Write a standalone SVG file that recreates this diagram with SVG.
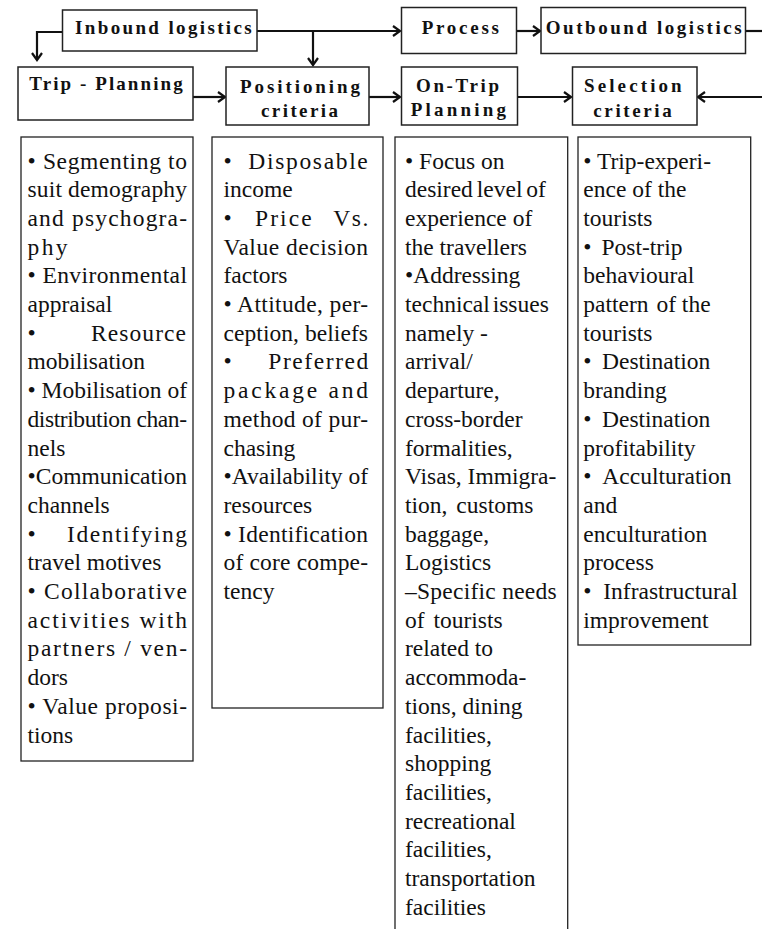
<svg xmlns="http://www.w3.org/2000/svg" width="762" height="929" viewBox="0 0 762 929">
<style>
text{font-family:'Liberation Serif',serif !important}
.h{font-weight:bold;font-size:19px;fill:#111}
.t{font-size:23.5px;fill:#111}
.hbox{fill:#fff;stroke:#222;stroke-width:1.5}
.tbox{fill:#fff;stroke:#222;stroke-width:1.3}
.c{fill:none;stroke:#111;stroke-width:2.2}
</style>
<defs>
<marker id="ah" markerUnits="userSpaceOnUse" markerWidth="14" markerHeight="14" refX="9" refY="6" orient="auto" viewBox="0 0 14 12">
<path d="M2,1 L9,6 L2,11" fill="none" stroke="#111" stroke-width="2.2"/>
</marker>
</defs>
<rect x="0" y="0" width="762" height="929" fill="#fff"/>

<g id="connectors">
<path class="c" d="M62,32 H37 V60" marker-end="url(#ah)"/>
<path class="c" d="M257,31 H400" marker-end="url(#ah)"/>
<path class="c" d="M313,31 V65" marker-end="url(#ah)"/>
<path class="c" d="M516,31 H540" marker-end="url(#ah)"/>
<path class="c" d="M745,31 H762"/>
<path class="c" d="M762,97 H698" marker-end="url(#ah)"/>
<path class="c" d="M193,97 H225" marker-end="url(#ah)"/>
<path class="c" d="M369,97 H400" marker-end="url(#ah)"/>
<path class="c" d="M517,97 H571" marker-end="url(#ah)"/>
</g>

<g id="inbound">
<rect class="hbox" x="62.5" y="10" width="194.5" height="41"/>
<text class="h" style="font-family:'Liberation Serif',serif !important" x="75" y="33.5" textLength="176.7" lengthAdjust="spacing">Inbound logistics</text>
</g>
<g id="process">
<rect class="hbox" x="401.5" y="7.5" width="115" height="46"/>
<text class="h" style="font-family:'Liberation Serif',serif !important" x="421.7" y="33.5" textLength="77.3" lengthAdjust="spacing">Process</text>
</g>
<g id="outbound">
<rect class="hbox" x="541" y="7.5" width="204.5" height="46"/>
<text class="h" style="font-family:'Liberation Serif',serif !important" x="545.7" y="33.5" textLength="196" lengthAdjust="spacing">Outbound logistics</text>
</g>
<g id="trip-planning">
<rect class="hbox" x="18" y="67" width="175" height="53"/>
<text class="h" style="font-family:'Liberation Serif',serif !important" x="29.3" y="90" textLength="153.4" lengthAdjust="spacing">Trip - Planning</text>
</g>
<g id="positioning">
<rect class="hbox" x="226" y="67" width="143" height="58"/>
<text class="h" style="font-family:'Liberation Serif',serif !important" x="240" y="92.5" textLength="120" lengthAdjust="spacing">Positioning</text>
<text class="h" style="font-family:'Liberation Serif',serif !important" x="261" y="116.5" textLength="77" lengthAdjust="spacing">criteria</text>
</g>
<g id="on-trip">
<rect class="hbox" x="401.5" y="67" width="116" height="58"/>
<text class="h" style="font-family:'Liberation Serif',serif !important" x="416" y="92" textLength="83" lengthAdjust="spacing">On-Trip</text>
<text class="h" style="font-family:'Liberation Serif',serif !important" x="410.7" y="115.5" textLength="95.3" lengthAdjust="spacing">Planning</text>
</g>
<g id="selection">
<rect class="hbox" x="572.5" y="67" width="124.5" height="58"/>
<text class="h" style="font-family:'Liberation Serif',serif !important" x="584" y="92" textLength="97.7" lengthAdjust="spacing">Selection</text>
<text class="h" style="font-family:'Liberation Serif',serif !important" x="593.3" y="116.5" textLength="78.4" lengthAdjust="spacing">criteria</text>
</g>

<g id="trip-planning-details">
<rect class="tbox" x="21" y="137" width="172" height="624"/>
<text class="t" style="font-family:'Liberation Serif',serif !important" x="27.5" y="168.5" textLength="159.5" lengthAdjust="spacing">• Segmenting to</text>
<text class="t" style="font-family:'Liberation Serif',serif !important" x="27.5" y="197.2" textLength="159.5" lengthAdjust="spacing">suit demography</text>
<text class="t" style="font-family:'Liberation Serif',serif !important" x="27.5" y="225.9" textLength="159.5" lengthAdjust="spacing">and psychogra-</text>
<text class="t" style="font-family:'Liberation Serif',serif !important" x="27.5" y="254.6" textLength="40" lengthAdjust="spacing">phy</text>
<text class="t" style="font-family:'Liberation Serif',serif !important" x="27.5" y="283.3" textLength="159.5" lengthAdjust="spacing">• Environmental</text>
<text class="t" style="font-family:'Liberation Serif',serif !important" x="27.5" y="312">appraisal</text>
<text class="t" style="font-family:'Liberation Serif',serif !important" x="27.5" y="340.7">•</text>
<text class="t" style="font-family:'Liberation Serif',serif !important" x="91" y="340.7" textLength="95" lengthAdjust="spacing">Resource</text>
<text class="t" style="font-family:'Liberation Serif',serif !important" x="27.5" y="369.4">mobilisation</text>
<text class="t" style="font-family:'Liberation Serif',serif !important" x="27.5" y="398.1" textLength="159.5" lengthAdjust="spacing">• Mobilisation of</text>
<text class="t" style="font-family:'Liberation Serif',serif !important" x="27.5" y="426.8" textLength="159.5" lengthAdjust="spacing">distribution chan-</text>
<text class="t" style="font-family:'Liberation Serif',serif !important" x="27.5" y="455.5">nels</text>
<text class="t" style="font-family:'Liberation Serif',serif !important" x="27.5" y="484.2" textLength="159.5" lengthAdjust="spacing">•Communication</text>
<text class="t" style="font-family:'Liberation Serif',serif !important" x="27.5" y="512.9">channels</text>
<text class="t" style="font-family:'Liberation Serif',serif !important" x="27.5" y="541.6">•</text>
<text class="t" style="font-family:'Liberation Serif',serif !important" x="67" y="541.6" textLength="120" lengthAdjust="spacing">Identifying</text>
<text class="t" style="font-family:'Liberation Serif',serif !important" x="27.5" y="570.3">travel motives</text>
<text class="t" style="font-family:'Liberation Serif',serif !important" x="27.5" y="599" textLength="159.5" lengthAdjust="spacing">• Collaborative</text>
<text class="t" style="font-family:'Liberation Serif',serif !important" x="27.5" y="627.7" textLength="159.5" lengthAdjust="spacing">activities with</text>
<text class="t" style="font-family:'Liberation Serif',serif !important" x="27.5" y="656.4" textLength="159.5" lengthAdjust="spacing">partners / ven-</text>
<text class="t" style="font-family:'Liberation Serif',serif !important" x="27.5" y="685.1">dors</text>
<text class="t" style="font-family:'Liberation Serif',serif !important" x="27.5" y="713.8" textLength="159.5" lengthAdjust="spacing">• Value proposi-</text>
<text class="t" style="font-family:'Liberation Serif',serif !important" x="27.5" y="742.5">tions</text>
</g>

<g id="positioning-details">
<rect class="tbox" x="212" y="137" width="171" height="571"/>
<text class="t" style="font-family:'Liberation Serif',serif !important" x="223.5" y="168.5">•</text>
<text class="t" style="font-family:'Liberation Serif',serif !important" x="248.3" y="168.5" textLength="119.5" lengthAdjust="spacing">Disposable</text>
<text class="t" style="font-family:'Liberation Serif',serif !important" x="223.5" y="197.2">income</text>
<text class="t" style="font-family:'Liberation Serif',serif !important" x="223.5" y="225.9">•</text>
<text class="t" style="font-family:'Liberation Serif',serif !important" x="255" y="225.9" textLength="56.7" lengthAdjust="spacing">Price</text>
<text class="t" style="font-family:'Liberation Serif',serif !important" x="333.3" y="225.9" textLength="35" lengthAdjust="spacing">Vs.</text>
<text class="t" style="font-family:'Liberation Serif',serif !important" x="223.5" y="254.6" textLength="144.5" lengthAdjust="spacing">Value decision</text>
<text class="t" style="font-family:'Liberation Serif',serif !important" x="223.5" y="283.3">factors</text>
<text class="t" style="font-family:'Liberation Serif',serif !important" x="223.5" y="312" textLength="144.5" lengthAdjust="spacing">• Attitude, per-</text>
<text class="t" style="font-family:'Liberation Serif',serif !important" x="223.5" y="340.7" textLength="144.5" lengthAdjust="spacing">ception, beliefs</text>
<text class="t" style="font-family:'Liberation Serif',serif !important" x="223.5" y="369.4">•</text>
<text class="t" style="font-family:'Liberation Serif',serif !important" x="268.3" y="369.4" textLength="100" lengthAdjust="spacing">Preferred</text>
<text class="t" style="font-family:'Liberation Serif',serif !important" x="223.5" y="398.1" textLength="144.5" lengthAdjust="spacing">package and</text>
<text class="t" style="font-family:'Liberation Serif',serif !important" x="223.5" y="426.8" textLength="144.5" lengthAdjust="spacing">method of pur-</text>
<text class="t" style="font-family:'Liberation Serif',serif !important" x="223.5" y="455.5">chasing</text>
<text class="t" style="font-family:'Liberation Serif',serif !important" x="223.5" y="484.2" textLength="144.5" lengthAdjust="spacing">•Availability of</text>
<text class="t" style="font-family:'Liberation Serif',serif !important" x="223.5" y="512.9">resources</text>
<text class="t" style="font-family:'Liberation Serif',serif !important" x="223.5" y="541.6" textLength="144.5" lengthAdjust="spacing">• Identification</text>
<text class="t" style="font-family:'Liberation Serif',serif !important" x="223.5" y="570.3" textLength="144.5" lengthAdjust="spacing">of core compe-</text>
<text class="t" style="font-family:'Liberation Serif',serif !important" x="223.5" y="599">tency</text>
</g>

<g id="on-trip-details">
<rect class="tbox" x="395" y="137" width="172.7" height="800"/>
<text class="t" style="font-family:'Liberation Serif',serif !important" x="405" y="168.5">• Focus on</text>
<text class="t" style="font-family:'Liberation Serif',serif !important" x="405" y="197.2" word-spacing="-2">desired level of</text>
<text class="t" style="font-family:'Liberation Serif',serif !important" x="405" y="225.9">experience of</text>
<text class="t" style="font-family:'Liberation Serif',serif !important" x="405" y="254.6">the travellers</text>
<text class="t" style="font-family:'Liberation Serif',serif !important" x="405" y="283.3">•Addressing</text>
<text class="t" style="font-family:'Liberation Serif',serif !important" x="405" y="312" word-spacing="-3">technical issues</text>
<text class="t" style="font-family:'Liberation Serif',serif !important" x="405" y="340.7">namely -</text>
<text class="t" style="font-family:'Liberation Serif',serif !important" x="405" y="369.4">arrival/</text>
<text class="t" style="font-family:'Liberation Serif',serif !important" x="405" y="398.1">departure,</text>
<text class="t" style="font-family:'Liberation Serif',serif !important" x="405" y="426.8">cross-border</text>
<text class="t" style="font-family:'Liberation Serif',serif !important" x="405" y="455.5">formalities,</text>
<text class="t" style="font-family:'Liberation Serif',serif !important" x="405" y="484.2">Visas, Immigra-</text>
<text class="t" style="font-family:'Liberation Serif',serif !important" x="405" y="512.9">tion, <tspan dx="3">customs</tspan></text>
<text class="t" style="font-family:'Liberation Serif',serif !important" x="405" y="541.6">baggage,</text>
<text class="t" style="font-family:'Liberation Serif',serif !important" x="405" y="570.3">Logistics</text>
<text class="t" style="font-family:'Liberation Serif',serif !important" x="405" y="599" textLength="151.7" lengthAdjust="spacing">–Specific needs</text>
<text class="t" style="font-family:'Liberation Serif',serif !important" x="405" y="627.7">of <tspan dx="3">tourists</tspan></text>
<text class="t" style="font-family:'Liberation Serif',serif !important" x="405" y="656.4">related to</text>
<text class="t" style="font-family:'Liberation Serif',serif !important" x="405" y="685.1">accommoda-</text>
<text class="t" style="font-family:'Liberation Serif',serif !important" x="405" y="713.8">tions, dining</text>
<text class="t" style="font-family:'Liberation Serif',serif !important" x="405" y="742.5">facilities,</text>
<text class="t" style="font-family:'Liberation Serif',serif !important" x="405" y="771.2">shopping</text>
<text class="t" style="font-family:'Liberation Serif',serif !important" x="405" y="799.9">facilities,</text>
<text class="t" style="font-family:'Liberation Serif',serif !important" x="405" y="828.6">recreational</text>
<text class="t" style="font-family:'Liberation Serif',serif !important" x="405" y="857.3">facilities,</text>
<text class="t" style="font-family:'Liberation Serif',serif !important" x="405" y="886">transportation</text>
<text class="t" style="font-family:'Liberation Serif',serif !important" x="405" y="914.7">facilities</text>
</g>

<g id="selection-details">
<rect class="tbox" x="578" y="137" width="172.7" height="508"/>
<text class="t" style="font-family:'Liberation Serif',serif !important" x="583.3" y="168.5">• Trip-experi-</text>
<text class="t" style="font-family:'Liberation Serif',serif !important" x="583.3" y="197.2">ence of the</text>
<text class="t" style="font-family:'Liberation Serif',serif !important" x="583.3" y="225.9">tourists</text>
<text class="t" style="font-family:'Liberation Serif',serif !important" x="583.3" y="254.6">•</text>
<text class="t" style="font-family:'Liberation Serif',serif !important" x="601.5" y="254.6">Post-trip</text>
<text class="t" style="font-family:'Liberation Serif',serif !important" x="583.3" y="283.3">behavioural</text>
<text class="t" style="font-family:'Liberation Serif',serif !important" x="583.3" y="312">pattern <tspan dx="2">of the</tspan></text>
<text class="t" style="font-family:'Liberation Serif',serif !important" x="583.3" y="340.7">tourists</text>
<text class="t" style="font-family:'Liberation Serif',serif !important" x="583.3" y="369.4">•</text>
<text class="t" style="font-family:'Liberation Serif',serif !important" x="602" y="369.4">Destination</text>
<text class="t" style="font-family:'Liberation Serif',serif !important" x="583.3" y="398.1">branding</text>
<text class="t" style="font-family:'Liberation Serif',serif !important" x="583.3" y="426.8">•</text>
<text class="t" style="font-family:'Liberation Serif',serif !important" x="602" y="426.8">Destination</text>
<text class="t" style="font-family:'Liberation Serif',serif !important" x="583.3" y="455.5">profitability</text>
<text class="t" style="font-family:'Liberation Serif',serif !important" x="583.3" y="484.2">•</text>
<text class="t" style="font-family:'Liberation Serif',serif !important" x="602.3" y="484.2">Acculturation</text>
<text class="t" style="font-family:'Liberation Serif',serif !important" x="583.3" y="512.9">and</text>
<text class="t" style="font-family:'Liberation Serif',serif !important" x="583.3" y="541.6">enculturation</text>
<text class="t" style="font-family:'Liberation Serif',serif !important" x="583.3" y="570.3">process</text>
<text class="t" style="font-family:'Liberation Serif',serif !important" x="583.3" y="599">•</text>
<text class="t" style="font-family:'Liberation Serif',serif !important" x="603.3" y="599">Infrastructural</text>
<text class="t" style="font-family:'Liberation Serif',serif !important" x="583.3" y="627.7">improvement</text>
</g>
</svg>
